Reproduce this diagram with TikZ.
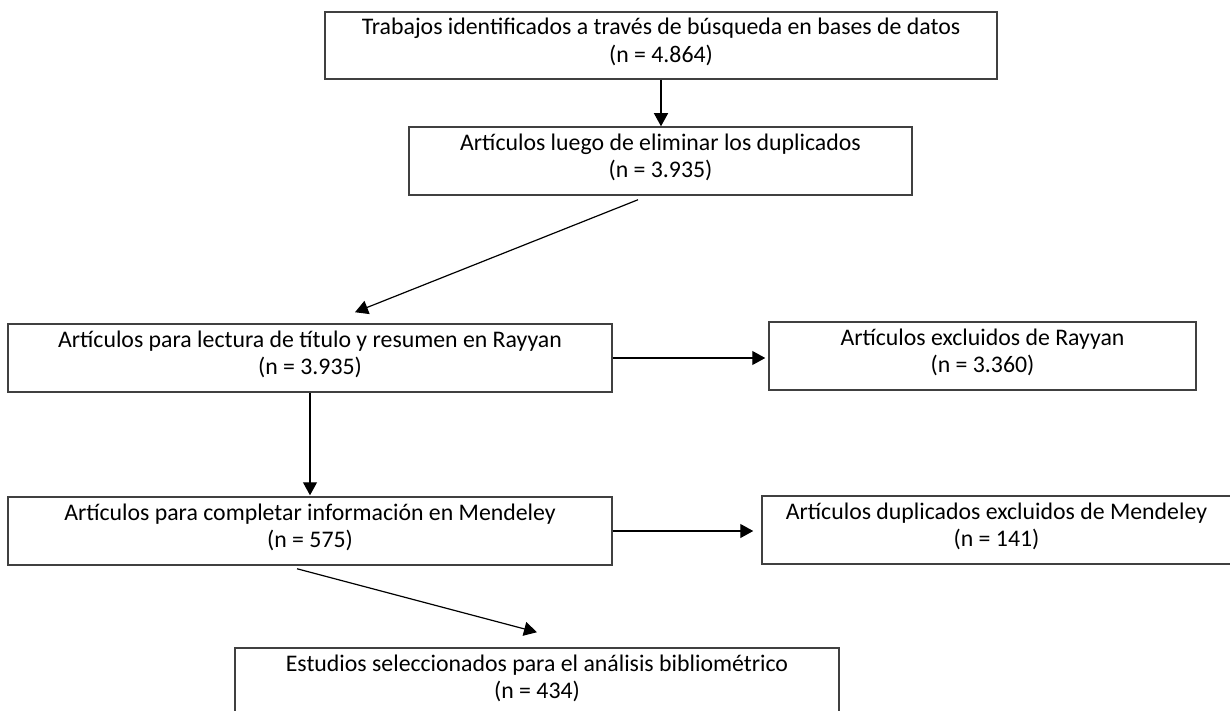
\documentclass[tikz,border=0pt]{standalone}
\usepackage{fontspec}
\setmainfont{Carlito}
\usetikzlibrary{arrows.meta}
\tikzset{
  caja/.style={draw=black!75, line width=0.75pt, align=center, inner sep=0pt,
    minimum height=34pt, text height=23pt, text depth=6.2pt,
    font=\fontsize{11.9}{13.8}\selectfont},
  flecha/.style={-{Triangle[length=6.5pt,width=7pt]}, line width=0.6pt}
}
\begin{document}
\begin{tikzpicture}[x=0.5pt,y=-0.5pt]
    \useasboundingbox (0,0) rectangle (1230,711);

    % Anchos de las cajas
    \def\anchoizq{302pt}

    % Cajas del diagrama
    \node[caja, minimum width=336pt, minimum height=33.5pt] (ident) at (661,45.5)
        {Trabajos identificados a través de búsqueda en bases de datos\\(n = 4.864)};
    \node[caja, minimum width=251.5pt] (dupl) at (660.5,161)
        {Artículos luego de eliminar los duplicados\\(n = 3.935)};
    \node[caja, minimum width=\anchoizq] (rayyan) at (310,358)
        {Artículos para lectura de título y resumen en Rayyan\\(n = 3.935)};
    \node[caja, minimum width=213.5pt] (exrayyan) at (982.5,356)
        {Artículos excluidos de Rayyan\\(n = 3.360)};
    \node[caja, minimum width=\anchoizq] (mendeley) at (310,531)
        {Artículos para completar información en Mendeley\\(n = 575)};
    \node[caja, minimum width=234.5pt] (exmendeley) at (996.5,530)
        {Artículos duplicados excluidos de Mendeley\\(n = 141)};
    \node[caja, minimum width=\anchoizq] (final) at (537,682)
        {Estudios seleccionados para el análisis bibliométrico\\(n = 434)};

    % Flechas
    \draw[flecha] (ident.south) -- (ident.south |- dupl.north);
    \draw[flecha] ([xshift=-11.25pt,yshift=-2pt]dupl.south) -- ([xshift=22.5pt,yshift=5.5pt]rayyan.north);
    \draw[flecha] (rayyan.east) -- ([xshift=-1.5pt]rayyan.east -| exrayyan.west);
    \draw[flecha] (rayyan.south) -- ([yshift=0.5pt]mendeley.north);
    \draw[flecha] (mendeley.east) -- ([xshift=-4pt]mendeley.east -| exmendeley.west);
    \draw[flecha] ([xshift=-6.5pt,yshift=-1.5pt]mendeley.south) -- ([yshift=7.5pt]final.north);
\end{tikzpicture}
\end{document}
